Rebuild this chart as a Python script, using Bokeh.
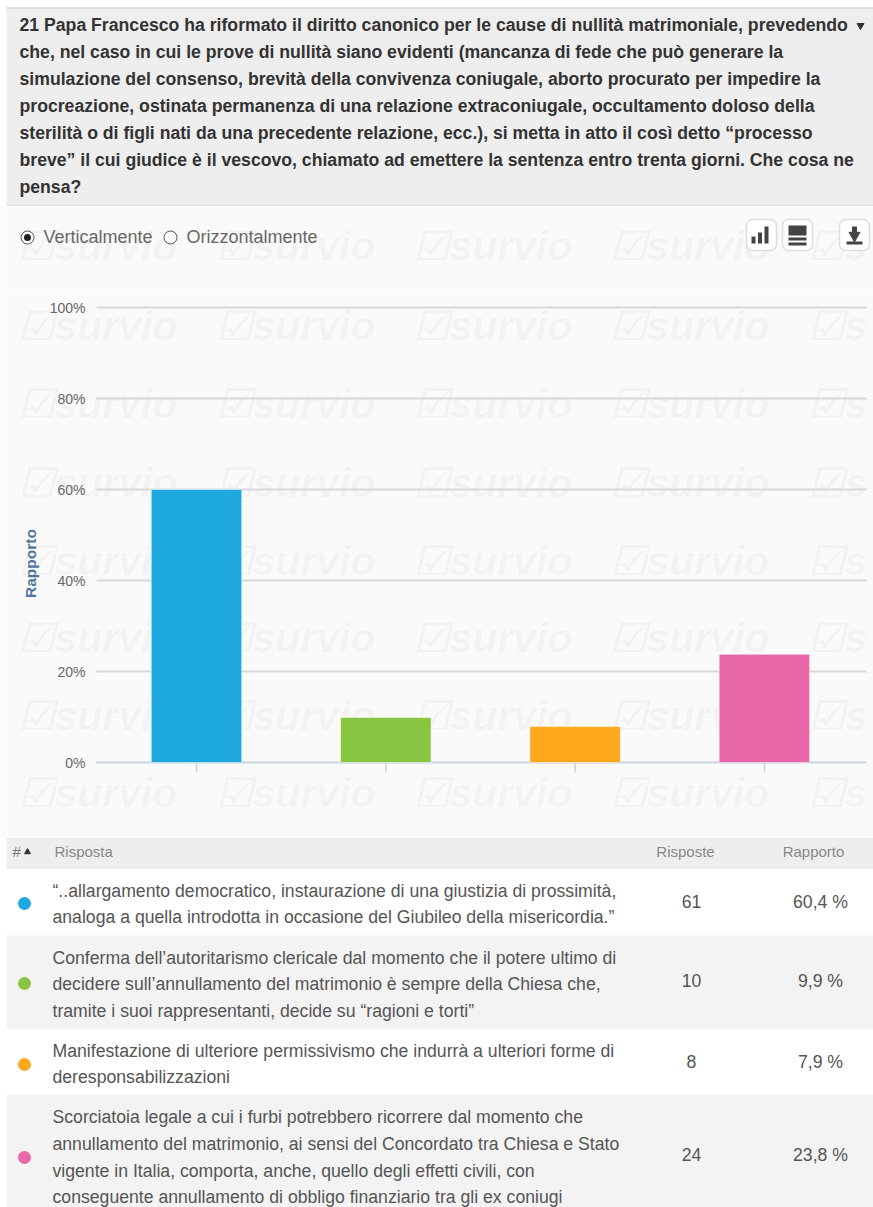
from bokeh.plotting import figure
from bokeh.models import Range1d, FixedTicker, ColumnDataSource
from bokeh.core.properties import value
from bokeh.embed import file_html
from bokeh.resources import INLINE

# ---- data ----
question_lines = [
    "21 Papa Francesco ha riformato il diritto canonico per le cause di nullità matrimoniale, prevedendo",
    "che, nel caso in cui le prove di nullità siano evidenti (mancanza di fede che può generare la",
    "simulazione del consenso, brevità della convivenza coniugale, aborto procurato per impedire la",
    "procreazione, ostinata permanenza di una relazione extraconiugale, occultamento doloso della",
    "sterilità o di figli nati da una precedente relazione, ecc.), si metta in atto il così detto “processo",
    "breve” il cui giudice è il vescovo, chiamato ad emettere la sentenza entro trenta giorni. Che cosa ne",
    "pensa?",
]
bar_values = [60, 9.9, 7.9, 23.8]
bar_colors = ["#1ea8e0", "#88c540", "#fea81e", "#e868aa"]
bar_positions = [0, 1, 2, 3]
tick_values = [0, 20, 40, 60, 80, 100]
tick_labels = ["0%", "20%", "40%", "60%", "80%", "100%"]
answers = [
    ["“..allargamento democratico, instaurazione di una giustizia di prossimità,",
     "analoga a quella introdotta in occasione del Giubileo della misericordia.”"],
    ["Conferma dell’autoritarismo clericale dal momento che il potere ultimo di",
     "decidere sull’annullamento del matrimonio è sempre della Chiesa che,",
     "tramite i suoi rappresentanti, decide su “ragioni e torti”"],
    ["Manifestazione di ulteriore permissivismo che indurrà a ulteriori forme di",
     "deresponsabilizzazioni"],
    ["Scorciatoia legale a cui i furbi potrebbero ricorrere dal momento che",
     "annullamento del matrimonio, ai sensi del Concordato tra Chiesa e Stato",
     "vigente in Italia, comporta, anche, quello degli effetti civili, con",
     "conseguente annullamento di obbligo finanziario tra gli ex coniugi"],
]
answer_counts = ["61", "10", "8", "24"]
answer_shares = ["60,4 %", "9,9 %", "7,9 %", "23,8 %"]

FONT = "Liberation Sans"
PANEL = "#fafafa"
WM_TEXT = ["☑survio", "☑survio", "☑survio", "☑survio", "☑s"]
WM_X = [17, 215, 412, 609, 807]


def pixel_fig(top, bottom, bg):
    p = figure(width=873, height=bottom - top, x_range=Range1d(0, 873),
               y_range=Range1d(bottom, top), output_backend="svg",
               toolbar_location=None, min_border=0, outline_line_color=None,
               background_fill_color=bg, border_fill_color=bg)
    p.xaxis.visible = False
    p.yaxis.visible = False
    p.grid.visible = False
    return p


def txt(p, x, y, s, size, color, style="normal", align="left"):
    p.text([x], [y - 1], text=[s], text_font=value(FONT), text_font_size=f"{size}px",
           text_font_style=style, text_color=color, text_align=align,
           text_baseline="middle")


# ---- header ----
head = pixel_fig(0, 206, "#ffffff")
head.quad(left=[6], right=[873], top=[8], bottom=[205], fill_color="#eeeeee", line_color=None)
head.segment([6], [7.5], [873], [7.5], line_color="#dddddd", line_width=2)
for i, line in enumerate(question_lines):
    txt(head, 19, 25 + i * 27, line, 17.65, "#333333", "bold")
head.scatter([860], [25], marker="inverted_triangle", size=7, color="#333333")
head.segment([6], [205.5], [873], [205.5], line_color="#d4d4d4", line_width=1)

# ---- controls (radio buttons, icon buttons) ----
ctrl = pixel_fig(206, 290, PANEL)
for x, s in zip(WM_X, WM_TEXT):
    ctrl.text([x], [245], text=[s], text_font=value(FONT), text_font_size="41px",
              text_font_style="bold italic", text_color="#000000", text_alpha=0.035,
              text_baseline="middle")
ctrl.circle([27], [237], radius=6.5, fill_color="white", line_color="#555555", line_width=1)
ctrl.circle([27], [237], radius=3.5, fill_color="#222222", line_color=None)
ctrl.circle([170], [237], radius=6.5, fill_color="white", line_color="#555555", line_width=1)
txt(ctrl, 43, 237, "Verticalmente", 18, "#666666")
txt(ctrl, 186, 237, "Orizzontalmente", 18, "#666666")
for cx in [761, 797, 854]:
    ctrl.quad(left=[cx - 15], right=[cx + 15], top=[219], bottom=[250], fill_color="white",
              line_color="#dddddd", line_width=1.5, border_radius=6)
ctrl.quad(left=[751, 757.5, 764], right=[755, 761.5, 768], top=[236, 232, 226],
          bottom=[243, 243, 243], fill_color="#444444", line_color=None)
ctrl.quad(left=[788, 788, 788], right=[806, 806, 806], top=[225, 237, 242],
          bottom=[235, 240, 245], fill_color="#444444", line_color=None)
ctrl.quad(left=[846], right=[862], top=[241], bottom=[244], fill_color="#444444", line_color=None)
ctrl.quad(left=[851.5], right=[856.5], top=[226], bottom=[232], fill_color="#444444", line_color=None)
ctrl.scatter([854], [235], marker="inverted_triangle", size=11, color="#444444")

# ---- chart ----
PX_PER_PCT = 4.55
Y0, TOP, BOT = 762, 290, 836
LEFT, RIGHT = 96, 866
CAT_PX = 189.3
X0 = 196


def xpx(v):
    return (v - X0) / CAT_PX


def ypx(v):
    return (Y0 - v) / PX_PER_PCT


chart = figure(width=873, height=BOT - TOP,
               x_range=Range1d(xpx(0), xpx(873)),
               y_range=Range1d(ypx(BOT), ypx(TOP)),
               output_backend="svg", toolbar_location=None,
               min_border=0,
               background_fill_color=PANEL, border_fill_color=PANEL,
               outline_line_color=None)
for row in [325, 403, 482, 560, 637, 715, 792]:
    for x, s in zip(WM_X, WM_TEXT):
        chart.text([xpx(x)], [ypx(row)], text=[s], text_font=value(FONT), text_font_size="41px",
                   text_font_style="bold italic", text_color="#000000", text_alpha=0.035,
                   text_baseline="middle")
chart.xaxis.visible = False
chart.grid.visible = False
ax = chart.yaxis[0]
ax.ticker = FixedTicker(ticks=tick_values)
ax.bounds = (0, 100)
ax.major_label_overrides = dict(zip(tick_values, tick_labels))
ax.axis_line_color = None
ax.major_tick_line_color = None
ax.minor_tick_line_color = None
ax.major_label_text_font = FONT
ax.major_label_text_font_size = "14px"
ax.major_label_text_color = "#666666"
ax.major_label_standoff = -91
ax.axis_label = "Rapporto"
ax.axis_label_text_font = FONT
ax.axis_label_text_font_size = "15.5px"
ax.axis_label_text_font_style = "bold"
ax.axis_label_text_color = "#4d759e"
ax.axis_label_standoff = 8
src = ColumnDataSource(dict(x=bar_positions, top=bar_values, color=bar_colors))
n = len(tick_values) - 1
chart.segment(x0=[xpx(LEFT)] * n, y0=tick_values[1:], x1=[xpx(RIGHT)] * n, y1=tick_values[1:],
              line_color="#d8d8d8", line_width=2)
chart.segment(x0=[xpx(LEFT)], y0=[0], x1=[xpx(RIGHT)], y1=[0], line_color="#c6d3e2", line_width=2)
chart.segment(x0=bar_positions, y0=[0] * 4, x1=bar_positions, y1=[-2.2] * 4,
              line_color="#c6d3e2", line_width=1.5)
chart.vbar(x="x", top="top", bottom=0, width=0.478, fill_color="color",
           line_color="white", line_alpha=0.5, line_width=1, source=src)

# ---- table ----
tab = pixel_fig(836, 1207, "#ffffff")
tab.quad(left=[6], right=[873], top=[837], bottom=[867], fill_color="#eeeeee", line_color=None)
tab.segment([6], [867.5], [873], [867.5], line_color="#dddddd", line_width=1)
tab.quad(left=[6, 6], right=[873, 873], top=[935, 1094], bottom=[1028.5, 1207],
         fill_color="#f3f3f3", line_color=None)
txt(tab, 12, 852, "#", 15, "#777777")
tab.scatter([27], [851.5], marker="triangle", size=6, color="#333333")
txt(tab, 54, 852, "Risposta", 15, "#888888")
txt(tab, 685, 852, "Risposte", 15, "#888888", align="center")
txt(tab, 813, 852, "Rapporto", 15, "#888888", align="center")
row_lines_y = [[891, 917], [958, 984, 1011], [1051, 1077], [1117, 1144, 1171, 1197]]
row_mid_y = [902, 981, 1062, 1155]
dot_y = [903, 983, 1064, 1157]
for r, lines in enumerate(answers):
    for line, y in zip(lines, row_lines_y[r]):
        txt(tab, 52, y, line, 17.65, "#555555")
    txt(tab, 691, row_mid_y[r], answer_counts[r], 17.65, "#555555", align="center")
    txt(tab, 820, row_mid_y[r], answer_shares[r], 17.65, "#555555", align="center")
    tab.circle([24], [dot_y[r]], radius=6.5, fill_color=bar_colors[r], line_color=None)

open("out.html", "w").write(file_html([head, ctrl, chart, tab], INLINE))
